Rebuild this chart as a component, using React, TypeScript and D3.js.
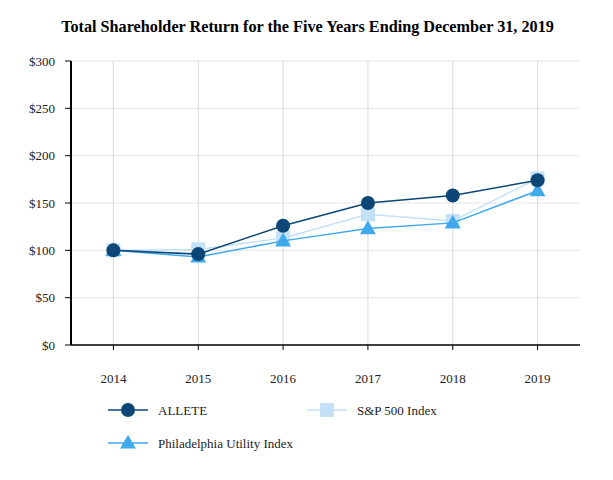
import * as d3 from 'd3'

const years = ['2014', '2015', '2016', '2017', '2018', '2019']
const allete = [100, 96, 126, 150, 158, 174]
const sp500 = [100, 101, 113, 138, 131, 176]
const philUtility = [100, 93, 110, 123, 129, 163]
const yTicks = [0, 50, 100, 150, 200, 250, 300]

const W = 613
const H = 480
const left = 71
const right = 580
const top = 61
const bottom = 345

const font = '"Liberation Serif", "Times New Roman", serif'

const series = [
  { name: 'ALLETE', values: allete, color: '#0b4677', marker: 'circle' },
  { name: 'S&P 500 Index', values: sp500, color: '#c3e2f9', marker: 'square' },
  { name: 'Philadelphia Utility Index', values: philUtility, color: '#40a9ec', marker: 'triangle' },
]

function Marker({ kind, x, y, color }: { kind: string; x: number; y: number; color: string }) {
  if (kind === 'circle') return <circle cx={x} cy={y} r={7} fill={color} />
  if (kind === 'square') return <rect x={x - 7} y={y - 7} width={14} height={14} fill={color} />
  const tri = d3.symbol(d3.symbolTriangle, 110)() as string
  return <path d={tri} transform={`translate(${x},${y + 1})`} fill={color} />
}

export default function App() {
  const x = d3.scalePoint<string>().domain(years).range([left, right]).padding(0.5)
  const y = d3.scaleLinear().domain([0, 300]).range([bottom, top])
  const line = d3
    .line<number>()
    .x((_, i) => x(years[i]) as number)
    .y((d) => y(d))

  // draw order: S&P under Phil under ALLETE
  const drawOrder = [series[1], series[2], series[0]]

  const legend = [
    { s: series[0], lx: 108, ly: 410 },
    { s: series[1], lx: 307, ly: 410 },
    { s: series[2], lx: 108, ly: 443 },
  ]

  return (
    <svg width={W} height={H} style={{ position: 'absolute', left: 0, top: 0 }} fontFamily={font}>
      <rect width={W} height={H} fill="#fff" />
      <text x={W / 2 + 1} y={32} textAnchor="middle" fontSize={16.2} fontWeight="bold" fill="#000">
        Total Shareholder Return for the Five Years Ending December 31, 2019
      </text>

      {yTicks.map((t) => (
        <g key={t}>
          {t > 0 && <line x1={left} x2={right} y1={y(t)} y2={y(t)} stroke="#e6e6e6" strokeWidth={1} />}
          <line x1={left - 6} x2={left} y1={y(t)} y2={y(t)} stroke="#000" strokeWidth={1} />
          <text x={left - 16} y={y(t)} dy="0.35em" textAnchor="end" fontSize={13} fill="#222">
            ${t}
          </text>
        </g>
      ))}

      {years.map((yr) => (
        <g key={yr}>
          <line x1={x(yr)} x2={x(yr)} y1={top} y2={bottom} stroke="#d9d9d9" strokeWidth={1} />
          <line x1={x(yr)} x2={x(yr)} y1={bottom} y2={bottom + 5} stroke="#000" strokeWidth={1} />
          <text x={x(yr)} y={bottom + 38} textAnchor="middle" fontSize={13} fill="#222">
            {yr}
          </text>
        </g>
      ))}

      <line x1={left} x2={right} y1={bottom} y2={bottom} stroke="#000" strokeWidth={1.5} />
      <line x1={left} x2={left} y1={top} y2={bottom} stroke="#000" strokeWidth={2} />

      {drawOrder.map((s) => (
        <g key={s.name}>
          <path d={line(s.values) as string} fill="none" stroke={s.color} strokeWidth={1.5} />
          {s.values.map((v, i) => (
            <Marker key={i} kind={s.marker} x={x(years[i]) as number} y={y(v)} color={s.color} />
          ))}
        </g>
      ))}

      {legend.map(({ s, lx, ly }) => (
        <g key={s.name}>
          <line x1={lx} x2={lx + 40} y1={ly} y2={ly} stroke={s.color} strokeWidth={1.5} />
          <Marker kind={s.marker} x={lx + 20} y={ly} color={s.color} />
          <text x={lx + 50} y={ly} dy="0.35em" fontSize={13} fill="#222">
            {s.name}
          </text>
        </g>
      ))}
    </svg>
  )
}
